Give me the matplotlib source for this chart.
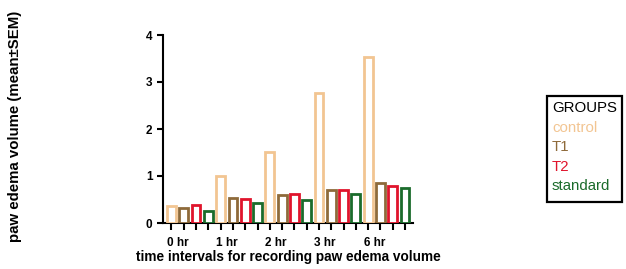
import matplotlib
matplotlib.use("Agg")
import matplotlib.pyplot as plt
from matplotlib.patches import Rectangle
import numpy as np

plt.rcParams["font.family"] = ["Liberation Sans", "DejaVu Sans"]

W, H = 626, 269
TIMES = ["0 hr", "1 hr", "2 hr", "3 hr", "6 hr"]
GROUPS = ["control", "T1", "T2", "standard"]
control = [0.37, 0.99, 1.52, 2.76, 3.53]
t1 = [0.32, 0.54, 0.59, 0.71, 0.86]
t2 = [0.38, 0.51, 0.62, 0.70, 0.78]
standard = [0.26, 0.43, 0.49, 0.62, 0.75]
COLORS = ["#F2C592", "#8E6A3A", "#E0142C", "#1B6B2B"]


def draw_key(fig) -> None:
    # hand-made key box, GraphPad style
    x0, y0, x1, y1 = 547, 96, 622, 202
    fig.patches.append(Rectangle((x0 / W, 1 - y1 / H), (x1 - x0) / W,
                                 (y1 - y0) / H, transform=fig.transFigure,
                                 facecolor="white", edgecolor="black",
                                 linewidth=1.6))
    labels = ["GROUPS"] + GROUPS
    colors = ["black"] + COLORS
    for i, (lab, col) in enumerate(zip(labels, colors)):
        fig.text(552 / W, 1 - (112 + i * 19.6) / H, lab, color=col,
                 fontsize=10.8, va="baseline", ha="left")


def main() -> None:
    fig = plt.figure(figsize=(W / 100, H / 100), dpi=100)
    ax = fig.add_axes([163 / W, 46 / H, 250 / W, 188 / H])

    series = [control, t1, t2, standard]
    n = len(GROUPS)
    for j, (vals, col) in enumerate(zip(series, COLORS)):
        xs = np.arange(len(TIMES)) * n + j
        ax.bar(xs, vals, width=0.72, facecolor="white", edgecolor=col,
               linewidth=2.0, zorder=3)

    ax.set_xlim(-0.69, len(TIMES) * n - 0.35)
    ax.set_ylim(0, 4)
    ax.set_yticks([0, 1, 2, 3, 4])
    ax.set_xticks(np.arange(len(TIMES) * n))
    ax.set_xticklabels([])
    ax.set_xticks(np.arange(len(TIMES)) * n + 0.5, minor=True)
    ax.set_xticklabels(TIMES, minor=True, fontweight="bold", fontsize=8.5)
    ax.tick_params(axis="x", which="major", length=5, width=1.5,
                   direction="out")
    ax.tick_params(axis="x", which="minor", length=0, pad=10)
    ax.tick_params(axis="y", length=4, width=1.5, labelsize=8.5)
    for lbl in ax.get_yticklabels():
        lbl.set_fontweight("bold")

    for side in ["top", "right"]:
        ax.spines[side].set_visible(False)
    for side in ["left", "bottom"]:
        ax.spines[side].set_linewidth(1.5)

    ax.set_xlabel("time intervals for recording paw edema volume",
                  fontweight="bold", fontsize=9.8, labelpad=1)
    fig.text(15 / W, 1 - 126 / H, "paw edema volume (mean\u00b1SEM)",
             rotation=90, ha="center", va="center", fontweight="bold",
             fontsize=10.8)

    draw_key(fig)
    fig.savefig("out.png", dpi=100)


if __name__ == "__main__":
    main()
